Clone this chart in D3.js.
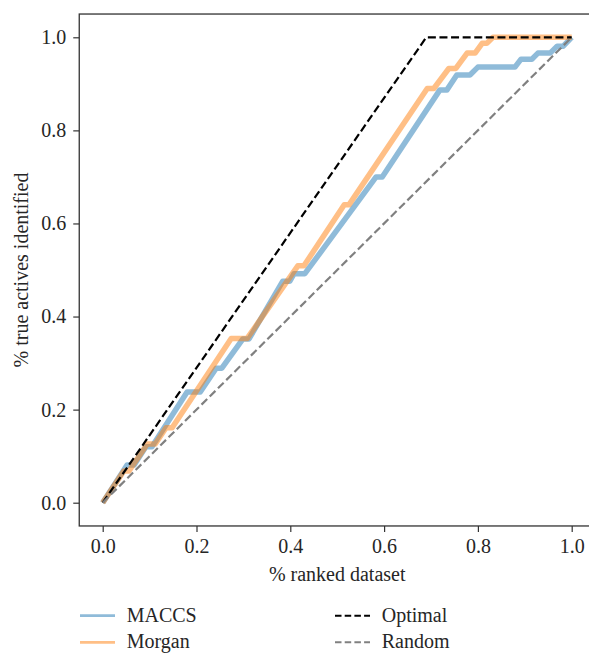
<!DOCTYPE html>
<html>
<head>
<meta charset="utf-8">
<script src="https://cdn.jsdelivr.net/npm/d3@7"></script>
<style>
  body { margin: 0; background: #fff; }
  svg text { font-family: "Liberation Serif", serif !important; }
</style>
</head>
<body>
<svg id="chart" width="589" height="653"></svg>
<script>
// enrichment curves (x = % ranked dataset, y = % true actives)
var maccsX = [0, 0.052, 0.067, 0.092, 0.105, 0.180, 0.208, 0.242, 0.254, 0.299, 0.312, 0.384, 0.399, 0.408, 0.431,
              0.583, 0.596, 0.719, 0.734, 0.755, 0.783, 0.800, 0.879, 0.892, 0.915, 0.928, 0.954, 0.969, 0.982, 1.0];
var maccsY = [0, 0.081, 0.081, 0.120, 0.120, 0.238, 0.238, 0.289, 0.289, 0.352, 0.352, 0.476, 0.476, 0.492, 0.492,
              0.700, 0.700, 0.887, 0.887, 0.919, 0.919, 0.936, 0.936, 0.953, 0.953, 0.966, 0.966, 0.981, 0.981, 1.0];
var morganX = [0, 0.045, 0.056, 0.095, 0.112, 0.135, 0.148, 0.274, 0.308, 0.416, 0.429, 0.515, 0.525,
               0.692, 0.706, 0.738, 0.753, 0.777, 0.794, 0.809, 0.819, 0.832, 1.0];
var morganY = [0, 0.068, 0.068, 0.126, 0.126, 0.161, 0.161, 0.353, 0.353, 0.509, 0.509, 0.640, 0.640,
               0.890, 0.890, 0.933, 0.933, 0.966, 0.966, 0.987, 0.987, 1.0, 1.0];
var optimalX = [0, 0.69, 1.0];
var optimalY = [0, 1.0, 1.0];
var randomX = [0, 1.0];
var randomY = [0, 1.0];
var xTicks = [0, 0.2, 0.4, 0.6, 0.8, 1.0];
var yTicks = [0, 0.2, 0.4, 0.6, 0.8, 1.0];

var svg = d3.select("#chart");

var x = d3.scaleLinear().domain([-0.05, 1.05]).range([79.25, 595.15]);
var y = d3.scaleLinear().domain([-0.05, 1.05]).range([525.97, 14.03]);

function pairs(xs, ys) {
	return xs.map(function(v, i) { return [v, ys[i]]; });
}

var line = d3.line()
	.x(function(d) { return x(d[0]); })
	.y(function(d) { return y(d[1]); });

var series = [
	{ name: "MACCS", pts: pairs(maccsX, maccsY), color: "#1f77b4", opacity: 0.5, width: 5.5, dash: null },
	{ name: "Morgan", pts: pairs(morganX, morganY), color: "#ff7f0e", opacity: 0.5, width: 5.5, dash: null },
	{ name: "Optimal", pts: pairs(optimalX, optimalY), color: "#000000", opacity: 1, width: 2.2, dash: "8,3.6" },
	{ name: "Random", pts: pairs(randomX, randomY), color: "#808080", opacity: 1, width: 2.2, dash: "8,3.6" }
];

svg.selectAll(".series")
	.data(series).enter().append("path")
	.attr("class", "series")
	.attr("d", function(d) { return line(d.pts); })
	.attr("fill", "none")
	.attr("stroke", function(d) { return d.color; })
	.attr("stroke-opacity", function(d) { return d.opacity; })
	.attr("stroke-width", function(d) { return d.width; })
	.attr("stroke-dasharray", function(d) { return d.dash; })
	.attr("stroke-linejoin", "round");

// axes
var xAxis = svg.append("g")
	.attr("transform", "translate(0," + y(-0.05) + ")")
	.call(d3.axisBottom(x).tickValues(xTicks).tickFormat(d3.format(".1f")).tickSize(6).tickPadding(7));
var yAxis = svg.append("g")
	.attr("transform", "translate(" + x(-0.05) + ",0)")
	.call(d3.axisLeft(y).tickValues(yTicks).tickFormat(d3.format(".1f")).tickSize(6).tickPadding(7));

[xAxis, yAxis].forEach(function(a) {
	a.attr("font-size", 20);
	a.select(".domain").remove();
	a.selectAll("line").attr("stroke", "#333").attr("stroke-width", 1.2);
	a.selectAll("text").attr("fill", "#262626");
});

// frame
svg.append("rect")
	.attr("x", x(-0.05)).attr("y", y(1.05))
	.attr("width", x(1.05) - x(-0.05)).attr("height", y(-0.05) - y(1.05))
	.attr("fill", "none").attr("stroke", "#333").attr("stroke-width", 1.3);

svg.append("text")
	.attr("x", x(0.5)).attr("y", 581)
	.attr("text-anchor", "middle")
	.attr("font-size", 20).attr("fill", "#262626")
	.text("% ranked dataset");

svg.append("text")
	.attr("transform", "translate(28," + y(0.5) + ") rotate(-90)")
	.attr("text-anchor", "middle")
	.attr("font-size", 20).attr("fill", "#262626")
	.text("% true actives identified");

// legend, two columns
var legendPos = [[80, 615.7], [80, 642.3], [335, 615.7], [335, 642.3]];
var legend = svg.selectAll(".legend")
	.data(series).enter().append("g")
	.attr("class", "legend")
	.attr("transform", function(d, i) { return "translate(" + legendPos[i][0] + "," + legendPos[i][1] + ")"; });

legend.append("line")
	.attr("x1", 0).attr("x2", 35).attr("y1", 0).attr("y2", 0)
	.attr("stroke", function(d) { return d.color; })
	.attr("stroke-opacity", function(d) { return d.opacity; })
	.attr("stroke-width", function(d) { return d.dash ? 2 : 2.8; })
	.attr("stroke-dasharray", function(d) { return d.dash ? "6.5,3.2" : null; });

legend.append("text")
	.attr("x", 46.7)
	.attr("y", 6)
	.attr("font-size", 20).attr("fill", "#262626")
	.text(function(d) { return d.name; });
</script>
</body>
</html>
